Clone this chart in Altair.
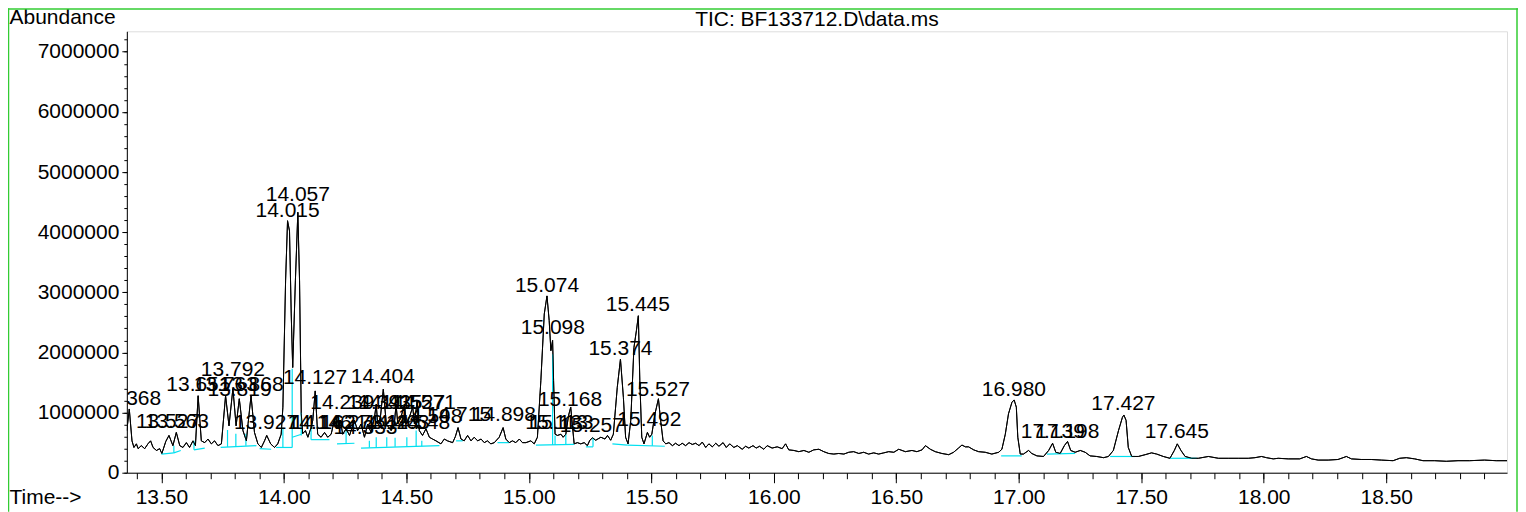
import altair as alt
import pandas as pd

# ---------------- data ----------------
trace_time = [
    13.359, 13.369, 13.380, 13.388, 13.398, 13.405, 13.418, 13.432, 13.445, 13.456,
    13.466, 13.480, 13.493, 13.502, 13.518, 13.531, 13.547, 13.561, 13.575, 13.588,
    13.602, 13.615, 13.629, 13.639, 13.650, 13.663, 13.677, 13.690, 13.704, 13.717,
    13.731, 13.745, 13.762, 13.776, 13.792, 13.805, 13.818, 13.833, 13.847, 13.854,
    13.866, 13.880, 13.894, 13.908, 13.921, 13.930, 13.946, 13.962, 13.975, 13.989,
    13.996, 14.007, 14.015, 14.023, 14.030, 14.036, 14.047, 14.057, 14.064, 14.071,
    14.077, 14.088, 14.098, 14.111, 14.118, 14.128, 14.138, 14.152, 14.166, 14.179,
    14.193, 14.206, 14.220, 14.231, 14.240, 14.254, 14.268, 14.288, 14.301, 14.315,
    14.329, 14.342, 14.356, 14.370, 14.377, 14.383, 14.394, 14.406, 14.418, 14.438,
    14.451, 14.458, 14.465, 14.478, 14.492, 14.499, 14.512, 14.526, 14.533, 14.544,
    14.553, 14.566, 14.580, 14.594, 14.607, 14.621, 14.641, 14.655, 14.668, 14.689,
    14.700, 14.711, 14.723, 14.736, 14.750, 14.764, 14.777, 14.791, 14.805, 14.818,
    14.831, 14.845, 14.859, 14.879, 14.895, 14.906, 14.920, 14.933, 14.947, 14.961,
    14.974, 14.988, 15.008, 15.022, 15.035, 15.049, 15.063, 15.074, 15.083, 15.090,
    15.097, 15.101, 15.107, 15.117, 15.131, 15.140, 15.151, 15.162, 15.171, 15.178,
    15.185, 15.198, 15.212, 15.226, 15.239, 15.249, 15.260, 15.273, 15.294, 15.311,
    15.321, 15.334, 15.345, 15.361, 15.374, 15.386, 15.395, 15.405, 15.416, 15.429,
    15.439, 15.447, 15.453, 15.461, 15.470, 15.484, 15.493, 15.502, 15.515, 15.529,
    15.538, 15.548, 15.559, 15.572, 15.586, 15.599, 15.613, 15.626, 15.640, 15.654,
    15.667, 15.681, 15.695, 15.708, 15.722, 15.735, 15.749, 15.763, 15.776, 15.793,
    15.806, 15.820, 15.837, 15.851, 15.871, 15.885, 15.898, 15.915, 15.928, 15.942,
    15.959, 15.973, 15.993, 16.014, 16.034, 16.048, 16.061, 16.082, 16.102, 16.123,
    16.143, 16.163, 16.184, 16.204, 16.224, 16.245, 16.265, 16.286, 16.306, 16.326,
    16.347, 16.367, 16.387, 16.408, 16.428, 16.449, 16.469, 16.490, 16.510, 16.537,
    16.564, 16.584, 16.605, 16.619, 16.639, 16.659, 16.686, 16.714, 16.734, 16.754,
    16.768, 16.782, 16.795, 16.816, 16.836, 16.863, 16.890, 16.918, 16.931, 16.945,
    16.958, 16.972, 16.981, 16.990, 16.996, 17.006, 17.019, 17.040, 17.053, 17.074,
    17.101, 17.122, 17.138, 17.151, 17.169, 17.186, 17.199, 17.212, 17.230, 17.251,
    17.271, 17.291, 17.318, 17.346, 17.366, 17.386, 17.407, 17.423, 17.429, 17.438,
    17.447, 17.461, 17.488, 17.516, 17.542, 17.563, 17.590, 17.617, 17.635, 17.647,
    17.662, 17.679, 17.706, 17.733, 17.774, 17.815, 17.855, 17.896, 17.937, 17.964,
    17.991, 18.011, 18.039, 18.059, 18.100, 18.147, 18.174, 18.195, 18.222, 18.263,
    18.303, 18.324, 18.337, 18.358, 18.398, 18.439, 18.480, 18.528, 18.555, 18.582,
    18.616, 18.650, 18.698, 18.745, 18.793, 18.840, 18.901, 18.949, 18.994,
]
trace_abund = [
    700000, 1060000, 530000, 420000, 480000, 400000, 450000, 400000, 480000, 530000,
    420000, 370000, 400000, 320000, 520000, 620000, 450000, 670000, 450000, 420000,
    500000, 420000, 530000, 450000, 1280000, 530000, 500000, 560000, 480000, 530000,
    450000, 480000, 1280000, 780000, 1400000, 780000, 1230000, 700000, 530000, 820000,
    1280000, 670000, 480000, 420000, 530000, 620000, 480000, 420000, 480000, 640000,
    1090000, 3190000, 4190000, 4020000, 2640000, 1750000, 3190000, 4330000, 3190000, 980000,
    650000, 700000, 590000, 750000, 870000, 1360000, 640000, 590000, 670000, 590000,
    640000, 870000, 730000, 870000, 640000, 730000, 620000, 870000, 700000, 810000,
    590000, 810000, 670000, 920000, 1140000, 810000, 920000, 1390000, 810000, 700000,
    810000, 1140000, 810000, 920000, 1140000, 810000, 920000, 1090000, 810000, 1200000,
    700000, 620000, 730000, 590000, 560000, 530000, 480000, 560000, 530000, 500000,
    600000, 750000, 560000, 530000, 620000, 530000, 590000, 530000, 560000, 500000,
    530000, 480000, 500000, 590000, 750000, 560000, 500000, 530000, 500000, 560000,
    500000, 500000, 530000, 480000, 590000, 1530000, 2640000, 2940000, 2530000, 2030000,
    2200000, 1530000, 640000, 620000, 640000, 590000, 640000, 950000, 1090000, 780000,
    480000, 500000, 480000, 500000, 450000, 540000, 580000, 540000, 590000, 560000,
    620000, 540000, 640000, 1420000, 1890000, 1250000, 590000, 480000, 870000, 2080000,
    2360000, 2610000, 1530000, 590000, 480000, 670000, 590000, 640000, 980000, 1230000,
    870000, 530000, 480000, 500000, 450000, 490000, 450000, 490000, 450000, 500000,
    470000, 490000, 450000, 510000, 420000, 480000, 430000, 490000, 440000, 500000,
    420000, 480000, 420000, 450000, 390000, 440000, 410000, 450000, 410000, 440000,
    390000, 450000, 410000, 430000, 400000, 480000, 380000, 370000, 350000, 370000,
    340000, 380000, 390000, 350000, 320000, 310000, 320000, 310000, 340000, 350000,
    320000, 340000, 310000, 330000, 310000, 330000, 350000, 340000, 390000, 350000,
    370000, 350000, 380000, 450000, 390000, 350000, 320000, 300000, 340000, 410000,
    460000, 430000, 430000, 380000, 350000, 340000, 310000, 340000, 390000, 640000,
    980000, 1170000, 1210000, 1090000, 590000, 310000, 310000, 370000, 320000, 280000,
    270000, 370000, 490000, 340000, 320000, 450000, 520000, 370000, 340000, 370000,
    340000, 280000, 270000, 250000, 270000, 370000, 700000, 920000, 960000, 870000,
    420000, 270000, 270000, 300000, 330000, 310000, 270000, 240000, 370000, 480000,
    370000, 270000, 240000, 240000, 270000, 240000, 240000, 240000, 240000, 250000,
    270000, 250000, 230000, 240000, 230000, 230000, 270000, 230000, 210000, 210000,
    220000, 250000, 270000, 230000, 220000, 220000, 210000, 200000, 240000, 250000,
    230000, 200000, 200000, 190000, 200000, 200000, 210000, 200000, 200000,
]

# peak labels (retention time) and height of each label's baseline
peak_labels = [
    "13.368", "13.527", "13.563", "13.651", "13.763", "13.792", "13.819", "13.868",
    "13.927", "14.015", "14.057", "14.127", "14.146", "14.162", "14.239", "14.273",
    "14.333", "14.391", "14.404", "14.424", "14.435", "14.463", "14.527", "14.548",
    "14.571", "14.598", "14.715", "14.898", "15.074", "15.098", "15.113", "15.133",
    "15.168", "15.257", "15.374", "15.445", "15.492", "15.527", "16.980", "17.139",
    "17.198", "17.427", "17.645",
]
label_abund = [
    1130000, 750000, 750000, 1360000, 1360000, 1610000, 1280000, 1360000,
    730000, 4260000, 4510000, 1480000, 730000, 730000, 1060000, 730000,
    650000, 1060000, 1500000, 730000, 1060000, 730000, 1060000, 730000,
    1060000, 830000, 860000, 860000, 3010000, 2310000, 730000, 730000,
    1110000, 670000, 1950000, 2690000, 780000, 1280000, 1280000, 580000,
    580000, 1050000, 570000,
]

# integration baselines (cyan)
base_t1 = [13.500, 13.551, 13.633, 13.742, 13.901, 13.968, 14.034, 14.111, 14.217, 14.315,
           14.703, 14.872, 15.029, 15.233, 15.341, 15.402, 16.928, 17.115, 17.373, 17.617]
base_a1 = [310000, 330000, 380000, 420000, 400000, 420000, 590000, 550000, 480000, 410000,
           530000, 500000, 460000, 430000, 480000, 460000, 280000, 310000, 270000, 240000]
base_t2 = [13.551, 13.579, 13.677, 13.888, 13.948, 14.034, 14.072, 14.186, 14.288, 14.635,
           14.730, 14.920, 15.185, 15.262, 15.402, 15.555, 17.012, 17.230, 17.475, 17.726]
base_a2 = [330000, 370000, 410000, 450000, 390000, 420000, 640000, 550000, 490000, 450000,
           530000, 500000, 470000, 430000, 460000, 440000, 280000, 320000, 270000, 240000]

# drop lines (cyan)
drop_t = [13.551, 13.633, 13.770, 13.804, 13.845, 13.996, 14.034, 14.071, 14.111, 14.254,
          14.349, 14.377, 14.420, 14.454, 14.502, 14.540, 14.563, 15.097, 15.107, 15.151,
          15.262, 15.504]
drop_lo = [330000, 380000, 430000, 440000, 450000, 420000, 420000, 620000, 550000, 480000,
           420000, 420000, 430000, 430000, 440000, 440000, 440000, 460000, 460000, 470000,
           430000, 450000]
drop_hi = [450000, 530000, 710000, 650000, 650000, 750000, 1730000, 1000000, 750000, 730000,
           530000, 590000, 590000, 580000, 590000, 700000, 530000, 1970000, 620000, 640000,
           580000, 620000]

chart_title = "TIC: BF133712.D\\data.ms"

x_major = [13.5, 14.0, 14.5, 15.0, 15.5, 16.0, 16.5, 17.0, 17.5, 18.0, 18.5]
x_minor = [round(13.4 + 0.1 * i, 1) for i in range(56)]
y_major = [0, 1000000, 2000000, 3000000, 4000000, 5000000, 6000000, 7000000]
y_minor = [200000 * i for i in range(37)]

X_DOMAIN = [13.359, 18.993]
Y_DOMAIN = [0, 7340000]
FONT = "Liberation Sans"
FS = 21
CYAN = "#00e0f0"
GREEN = "#33cc33"

trace_df = pd.DataFrame({"time": trace_time, "abund": trace_abund})
label_df = pd.DataFrame({"text": peak_labels,
                         "rt": [float(s) for s in peak_labels],
                         "h": label_abund})
base_df = pd.DataFrame({"t1": base_t1, "a1": base_a1, "t2": base_t2, "a2": base_a2})
drop_df = pd.DataFrame({"t": drop_t, "lo": drop_lo, "hi": drop_hi})

xs = alt.Scale(domain=X_DOMAIN, nice=False, zero=False)
ys = alt.Scale(domain=Y_DOMAIN, nice=False, zero=False)

common_axis = dict(labelFont=FONT, labelFontSize=FS, labelColor="black",
                   tickColor="black", domainColor="black", tickWidth=1,
                   domainWidth=1, grid=False, labelFlush=False, labelOverlap=False,
                   labelBound=False)

x_axis_major = alt.Axis(values=x_major, format=".2f", tickSize=10, labelPadding=4,
                        orient="bottom", title="Time-->", titleFont=FONT,
                        titleFontSize=FS, titleFontWeight="normal", titleColor="black",
                        titleAngle=0, titleAlign="left", titleBaseline="alphabetic",
                        titleX=-118, titleY=31, **common_axis)
y_axis_major = alt.Axis(values=y_major, format="d", tickSize=5, labelPadding=3,
                        orient="left", title="Abundance", titleFont=FONT,
                        titleFontSize=FS, titleFontWeight="normal", titleColor="black",
                        titleAngle=0, titleAlign="left", titleBaseline="alphabetic",
                        titleX=-118, titleY=-8, **common_axis)
x_axis_minor = alt.Axis(values=x_minor, tickSize=6, labels=False, domain=False,
                        orient="bottom", title=None, tickColor="black", grid=False)
y_axis_minor = alt.Axis(values=y_minor, tickSize=3, labels=False, domain=False,
                        orient="left", title=None, tickColor="black", grid=False)

trace = alt.Chart(trace_df).mark_line(color="black", strokeWidth=1, clip=True).encode(
    x=alt.X("time:Q", scale=xs, axis=x_axis_major),
    y=alt.Y("abund:Q", scale=ys, axis=y_axis_major),
)

baselines = alt.Chart(base_df).mark_rule(color=CYAN, strokeWidth=1.2).encode(
    x=alt.X("t1:Q", scale=xs, axis=x_axis_minor),
    y=alt.Y("a1:Q", scale=ys, axis=y_axis_minor),
    x2="t2:Q", y2="a2:Q",
)

drops = alt.Chart(drop_df).mark_rule(color=CYAN, strokeWidth=1.2).encode(
    x=alt.X("t:Q", scale=xs, axis=None),
    y=alt.Y("lo:Q", scale=ys, axis=None),
    y2="hi:Q",
)

trace_top = alt.Chart(trace_df).mark_line(color="black", strokeWidth=1, clip=True).encode(
    x=alt.X("time:Q", scale=xs, axis=None),
    y=alt.Y("abund:Q", scale=ys, axis=None),
)

labels = alt.Chart(label_df).mark_text(font=FONT, fontSize=FS, color="black",
                                       align="center", baseline="alphabetic",
                                       clip=True).encode(
    x=alt.X("rt:Q", scale=xs, axis=None),
    y=alt.Y("h:Q", scale=ys, axis=None),
    text="text:N",
)

one_df = pd.DataFrame({"k": [0]})
title_mark = alt.Chart(one_df).mark_text(font=FONT, fontSize=FS, color="black",
                                         align="center", baseline="alphabetic").encode(
    x=alt.value(691), y=alt.value(-5.5), text=alt.value(chart_title))
frame_left = alt.Chart(one_df).mark_rule(color=GREEN, strokeWidth=1.5).encode(
    x=alt.value(-118.5), y=alt.value(-23), y2=alt.value(481))
frame_right = alt.Chart(one_df).mark_rule(color=GREEN, strokeWidth=1.5).encode(
    x=alt.value(1392), y=alt.value(-23), y2=alt.value(481))
frame_top = alt.Chart(one_df).mark_rule(color=GREEN, strokeWidth=1.5).encode(
    x=alt.value(-119), x2=alt.value(1393), y=alt.value(-22.3))

chart = alt.layer(
    trace, baselines, drops, trace_top, labels, title_mark,
    frame_left, frame_right, frame_top
).resolve_axis(x="independent", y="independent").properties(
    width=1382, height=442,
    autosize=alt.AutoSizeParams(type="none"),
    padding={"left": 119, "top": 23, "right": 11, "bottom": 39},
).configure_view(stroke=None).configure(background="white")

chart.save("out.html", embed_options={"renderer": "svg", "actions": False})
